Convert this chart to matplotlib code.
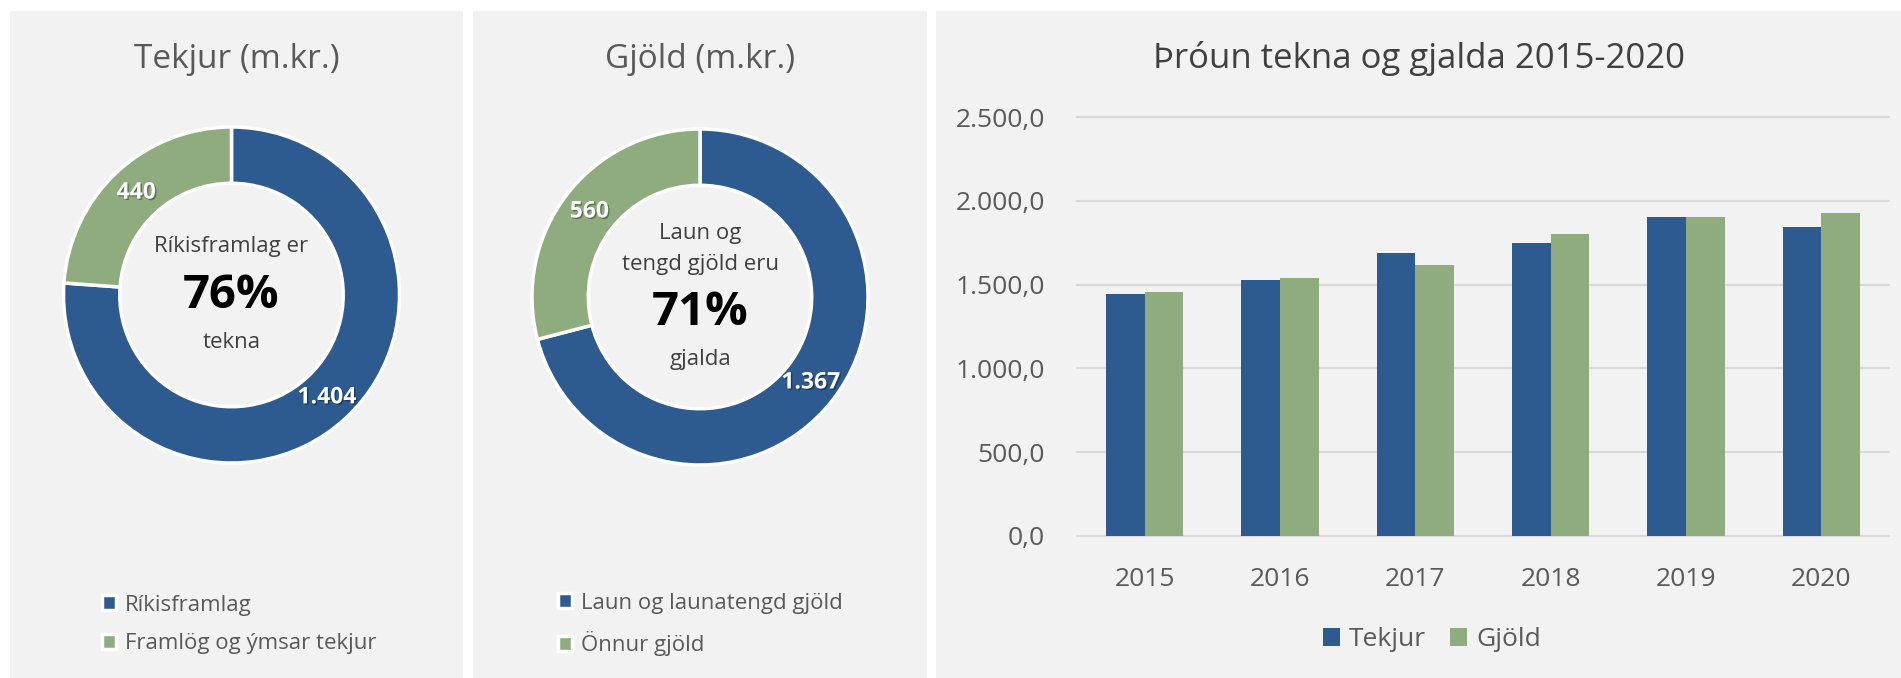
import matplotlib
matplotlib.use('Agg')
import matplotlib.pyplot as plt
import matplotlib.patheffects as pe
from matplotlib.patches import Rectangle
import numpy as np

# ---- data ----
tekjur_labels = ['Ríkisframlag', 'Framlög og ýmsar tekjur']
tekjur_values = [1404, 440]
gjold_labels = ['Laun og launatengd gjöld', 'Önnur gjöld']
gjold_values = [1367, 560]
years = ['2015', '2016', '2017', '2018', '2019', '2020']
tekjur_series = [1441, 1526, 1686, 1748, 1901, 1844]
gjold_series = [1457, 1537, 1614, 1803, 1901, 1927]
series_names = ['Tekjur', 'Gjöld']
yticks = [0, 500, 1000, 1500, 2000, 2500]

BLUE = '#2D5A8F'
GREEN = '#8EAC7E'
PANEL = '#F2F2F2'
TXT = '#595959'
DARK = '#404040'

plt.rcParams['font.family'] = ['Open Sans', 'DejaVu Sans']

W, H = 1901, 678
fig = plt.figure(figsize=(W / 100, H / 100), dpi=100, facecolor='white')


def fx(px):
    return px / W


def fy(py):
    return 1 - py / H


def thousands(v):
    return f"{v:,}".replace(',', '.')


def tickfmt(v):
    return f"{v:,.1f}".replace(',', 'X').replace('.', ',').replace('X', '.')


for (x0, x1) in [(10, 463), (473, 927), (936, 1901)]:
    fig.add_artist(Rectangle((fx(x0), 0), fx(x1 - x0), fy(11), transform=fig.transFigure,
                             facecolor=PANEL, edgecolor='none', zorder=0))

RING = 0.335
shadow = [pe.withSimplePatchShadow(offset=(1, -1), shadow_rgbFace='black', alpha=0.35)]


def donut(cx, cy, r, values, labels, lines, title, title_x, legend_x):
    ax = fig.add_axes([fx(cx - r), fy(cy + r), fx(2 * r), 2 * r / H])
    wedges, _ = ax.pie(values, startangle=90, counterclock=False, colors=[BLUE, GREEN],
                       radius=1, wedgeprops=dict(width=RING, edgecolor='white', linewidth=2.5))
    for w in wedges:
        w.set_clip_on(False)
    ax.set_xlim(-1, 1)
    ax.set_ylim(-1, 1)
    ax.set_aspect('equal')
    ax.axis('off')
    rr = 1 - RING / 2
    for w, v in zip(wedges, values):
        ang = np.deg2rad((w.theta1 + w.theta2) / 2)
        ax.text(rr * np.cos(ang), rr * np.sin(ang), thousands(v), ha='center', va='center',
                color='white', fontsize=16.5, fontweight='bold', path_effects=shadow)
    pct = round(100 * values[0] / sum(values))
    for (txt, dy, kind) in lines:
        if kind == 'pct':
            ax.text(0, dy, f"{pct}%", ha='center', va='center', fontsize=34,
                    fontweight='bold', color='black')
        else:
            ax.text(0, dy, txt, ha='center', va='center', fontsize=16, color=DARK)
    fig.text(fx(title_x), fy(60), title, ha='center', va='center', fontsize=24, color=TXT)
    ax.legend(wedges, labels, loc='center left', bbox_to_anchor=(fx(legend_x), fy(624.5)),
              bbox_transform=fig.transFigure, frameon=False, fontsize=16, labelcolor=TXT,
              handlelength=0.65, handleheight=0.65, handletextpad=0.4, labelspacing=0.8,
              borderpad=0, borderaxespad=0)


donut(231.5, 295, 168, tekjur_values, tekjur_labels,
      [('Ríkisframlag er', 0.286, 't'), ('', 0.0, 'pct'), ('tekna', -0.28, 't')],
      'Tekjur (m.kr.)', 237, 102)
donut(700, 297, 168, gjold_values, gjold_labels,
      [('Laun og', 0.38, 't'), ('tengd gjöld eru', 0.196, 't'), ('', -0.09, 'pct'),
       ('gjalda', -0.37, 't')],
      'Gjöld (m.kr.)', 700, 558)

# ---- bar chart ----
axb = fig.add_axes([fx(1077), fy(536), fx(1889 - 1077), (536 - 117) / H])
axb.set_facecolor('none')
x = np.arange(len(years))
bw = 0.285
axb.bar(x - bw / 2, tekjur_series, bw, color=BLUE, label=series_names[0], zorder=3)
axb.bar(x + bw / 2, gjold_series, bw, color=GREEN, label=series_names[1], zorder=3)
axb.set_xlim(-0.5, len(years) - 0.5)
axb.set_ylim(0, 2500)
axb.set_yticks(yticks)
axb.set_yticklabels([tickfmt(v) for v in yticks])
axb.set_xticks(x)
axb.set_xticklabels(years)
axb.grid(axis='y', color='#D9D9D9', lw=1.5, zorder=0)
for gl in axb.get_ygridlines():
    gl.set_clip_on(False)
for s in axb.spines.values():
    s.set_visible(False)
axb.tick_params(length=0, labelsize=19, labelcolor=TXT)
axb.tick_params(axis='y', pad=23)
axb.tick_params(axis='x', pad=22)
axb.set_axisbelow(True)
fig.text(fx(1419), fy(58), 'Þróun tekna og gjalda 2015-2020', ha='center', va='center',
         fontsize=25, color=DARK)
axb.legend(loc='center', bbox_to_anchor=(fx(1432), fy(640)), bbox_transform=fig.transFigure,
           ncol=2, frameon=False, fontsize=19, labelcolor=TXT, handlelength=0.65,
           handleheight=0.65, handletextpad=0.34, columnspacing=0.9, borderpad=0,
           borderaxespad=0)

fig.savefig('out.png', dpi=100, facecolor='white')
